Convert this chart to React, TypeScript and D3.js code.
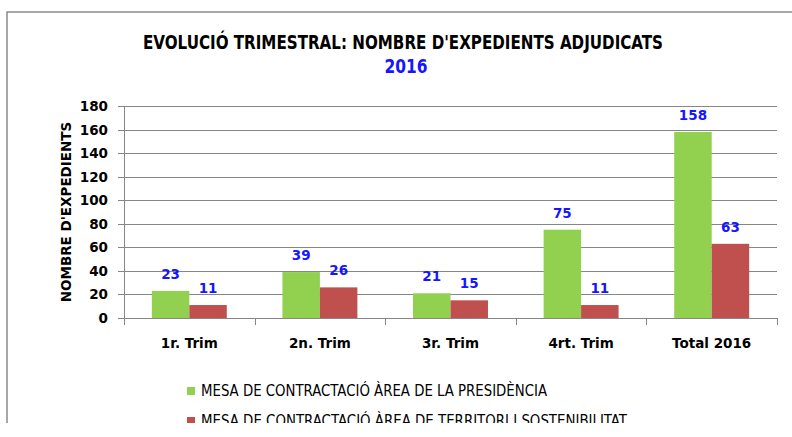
import React, { useEffect, useRef } from 'react';
import * as d3 from 'd3';

const categories = ['1r. Trim', '2n. Trim', '3r. Trim', '4rt. Trim', 'Total 2016'];
const seriesNames = [
  'MESA DE CONTRACTACIÓ ÀREA DE LA PRESIDÈNCIA',
  'MESA DE CONTRACTACIÓ ÀREA DE TERRITORI I SOSTENIBILITAT',
];
const presidencia = [23, 39, 21, 75, 158];
const territori = [11, 26, 15, 11, 63];
const yTicks = [0, 20, 40, 60, 80, 100, 120, 140, 160, 180];
const colors = ['#92D050', '#C0504D'];

const W = 792;
const H = 437;
const boldFont = '"DejaVu Sans", Verdana, sans-serif';
const narrowFont = '"Liberation Sans Narrow", "DejaVu Sans Condensed", "Liberation Sans", sans-serif';

const App = () => {
  const svgRef = useRef<SVGSVGElement>(null);

  useEffect(() => {
    const svg = d3.select(svgRef.current);
    svg.selectAll('*').remove();

    const left = 124, right = 777, top = 106, bottom = 318;
    const x = d3.scaleBand().domain(categories).range([left, right]).paddingInner(0.426).paddingOuter(0.213);
    const y = d3.scaleLinear().domain([0, 180]).range([bottom, top]);
    const series = [presidencia, territori];

    svg.append('defs').append('clipPath').attr('id', 'frame')
      .append('rect').attr('x', 0).attr('y', 0).attr('width', W).attr('height', 423);

    const root = svg.append('g').attr('clip-path', 'url(#frame)');

    // chart frame
    root.append('rect').attr('x', 7).attr('y', 12).attr('width', W + 20).attr('height', H + 20)
      .attr('fill', '#fff').attr('stroke', '#8a8a8a').attr('stroke-width', 1.5);

    // title
    root.append('text').attr('x', 403).attr('y', 49).attr('text-anchor', 'middle')
      .attr('textLength', 520).attr('lengthAdjust', 'spacingAndGlyphs')
      .style('font-family', narrowFont).style('font-weight', 'bold').style('font-size', '19px')
      .attr('fill', '#000').text("EVOLUCIÓ TRIMESTRAL: NOMBRE D'EXPEDIENTS ADJUDICATS");
    root.append('text').attr('x', 406).attr('y', 73).attr('text-anchor', 'middle')
      .attr('textLength', 43).attr('lengthAdjust', 'spacingAndGlyphs')
      .style('font-family', narrowFont).style('font-weight', 'bold').style('font-size', '19px')
      .attr('fill', '#1515ff').text('2016');

    // gridlines
    root.append('g').selectAll('line').data(yTicks.filter(d => d > 0)).join('line')
      .attr('x1', left).attr('x2', right)
      .attr('y1', d => Math.round(y(d)) + 0.5).attr('y2', d => Math.round(y(d)) + 0.5)
      .attr('stroke', '#868686').attr('stroke-width', 1);

    // bars
    const inner = d3.scaleBand().domain(['0', '1']).range([0, x.bandwidth()]);
    series.forEach((vals, si) => {
      root.append('g').selectAll('rect').data(vals).join('rect')
        .attr('x', (d, i) => x(categories[i])! + inner(String(si))!)
        .attr('y', d => y(d))
        .attr('width', inner.bandwidth())
        .attr('height', d => bottom - y(d))
        .attr('fill', colors[si]);
    });

    // value labels
    series.forEach((vals, si) => {
      root.append('g').selectAll('text').data(vals).join('text')
        .attr('x', (d, i) => x(categories[i])! + inner(String(si))! + inner.bandwidth() / 2)
        .attr('y', d => y(d) - 12)
        .attr('text-anchor', 'middle')
        .style('font-family', boldFont).style('font-weight', 'bold').style('font-size', '13.5px')
        .attr('fill', '#1515ff')
        .text(d => d);
    });

    // y axis
    const yAxis = root.append('g');
    yAxis.append('line').attr('x1', left + 0.5).attr('x2', left + 0.5).attr('y1', top).attr('y2', bottom + 7)
      .attr('stroke', '#868686');
    yAxis.selectAll('line.tick').data(yTicks).join('line').attr('class', 'tick')
      .attr('x1', left - 6).attr('x2', left)
      .attr('y1', d => Math.round(y(d)) + 0.5).attr('y2', d => Math.round(y(d)) + 0.5)
      .attr('stroke', '#868686');
    yAxis.selectAll('text').data(yTicks).join('text')
      .attr('x', 108).attr('y', d => y(d) + 5)
      .attr('text-anchor', 'end')
      .style('font-family', boldFont).style('font-weight', 'bold').style('font-size', '13.5px')
      .attr('fill', '#000').text(d => d);

    // x axis
    const xAxis = root.append('g');
    xAxis.append('line').attr('x1', left).attr('x2', right).attr('y1', bottom + 0.5).attr('y2', bottom + 0.5)
      .attr('stroke', '#868686');
    const bounds = categories.map((c, i) => left + i * x.step()).concat([right]);
    xAxis.selectAll('line.tick').data(bounds).join('line').attr('class', 'tick')
      .attr('x1', d => Math.round(d) + 0.5).attr('x2', d => Math.round(d) + 0.5)
      .attr('y1', bottom).attr('y2', bottom + 7).attr('stroke', '#868686');
    xAxis.selectAll('text').data(categories).join('text')
      .attr('x', d => x(d)! + x.bandwidth() / 2).attr('y', 348)
      .attr('text-anchor', 'middle')
      .style('font-family', boldFont).style('font-weight', 'bold').style('font-size', '13.5px')
      .attr('fill', '#000').text(d => d);

    // y axis title
    root.append('text').attr('transform', 'translate(71,212) rotate(-90)')
      .attr('text-anchor', 'middle')
      .style('font-family', boldFont).style('font-weight', 'bold').style('font-size', '13.5px')
      .attr('fill', '#000').text("NOMBRE D'EXPEDIENTS");

    // legend
    const legendWidths = [346, 426];
    const legend = root.append('g').selectAll('g').data(seriesNames).join('g')
      .attr('transform', (d, i) => `translate(187,${387 + i * 30})`);
    legend.append('rect').attr('width', 8).attr('height', 8).attr('fill', (d, i) => colors[i]);
    legend.append('text').attr('x', 14).attr('y', 9)
      .attr('textLength', (d, i) => legendWidths[i]).attr('lengthAdjust', 'spacingAndGlyphs')
      .style('font-family', narrowFont).style('font-size', '15.5px')
      .attr('fill', '#000').text(d => d);
  }, []);

  return (
    <svg ref={svgRef} width={W} height={H}
      style={{ position: 'absolute', left: 0, top: 0, background: '#fff' }} />
  );
};

export default App;
